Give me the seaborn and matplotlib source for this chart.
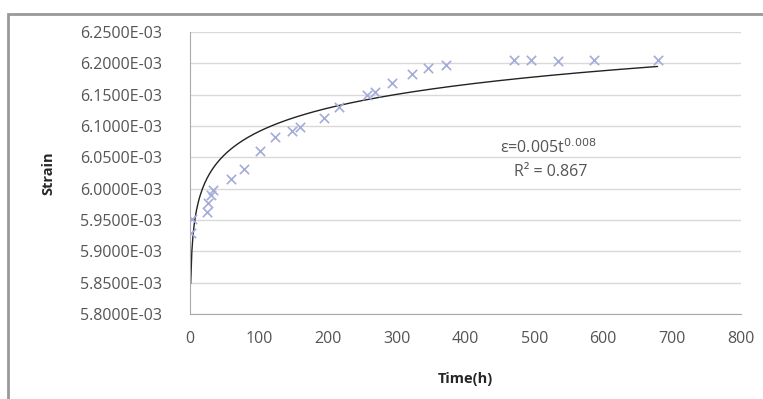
import matplotlib.pyplot as plt
import seaborn as sns
import numpy as np
from matplotlib.patches import Rectangle

# creep strain readings
time_h = [1, 3, 25, 26, 30, 33, 59, 79, 101, 124, 148, 160, 194, 217,
          257, 269, 294, 323, 346, 372, 470, 495, 535, 586, 679]
strain = [5.930e-3, 5.952e-3, 5.963e-3, 5.977e-3, 5.990e-3, 5.998e-3,
          6.015e-3, 6.031e-3, 6.060e-3, 6.083e-3, 6.092e-3, 6.098e-3,
          6.113e-3, 6.130e-3, 6.150e-3, 6.154e-3, 6.168e-3, 6.183e-3,
          6.192e-3, 6.197e-3, 6.205e-3, 6.205e-3, 6.204e-3, 6.205e-3,
          6.206e-3]
y_ticks = [5.80e-3, 5.85e-3, 5.90e-3, 5.95e-3, 6.00e-3, 6.05e-3,
           6.10e-3, 6.15e-3, 6.20e-3, 6.25e-3]
x_ticks = [0, 100, 200, 300, 400, 500, 600, 700, 800]

sns.set_style('white')
plt.rcParams['font.family'] = ['Open Sans', 'DejaVu Sans']

fig = plt.figure(figsize=(7.63, 3.99), dpi=100)
ax = fig.add_axes([0.249, 0.213, 0.722, 0.707])

# power-law trendline, fitted in log space like a spreadsheet
b, ln_a = np.polyfit(np.log(time_h), np.log(strain), 1)
t_fit = np.linspace(1.0, max(time_h), 400)
sns.lineplot(x=t_fit, y=np.exp(ln_a) * t_fit ** b, color='#222222', lw=1.0, ax=ax)

sns.scatterplot(x=time_h, y=strain, marker='x', s=45, color='#a3acd9',
                linewidth=1.2, ax=ax, zorder=3)

ax.set_xlim(0, 800)
ax.set_ylim(5.80e-3, 6.25e-3)
ax.set_xticks(x_ticks)
ax.set_yticks(y_ticks)
ax.set_yticklabels([f'{v:.4E}' for v in y_ticks])
ax.tick_params(axis='both', labelsize=11.5, colors='#555555', length=0, pad=20)
ax.tick_params(axis='x', pad=12)
ax.yaxis.grid(True, color='#d9d9d9', lw=1)
for side in ['top', 'right']:
    ax.spines[side].set_visible(False)
for side in ['left', 'bottom']:
    ax.spines[side].set_color('#aaaaaa')

ax.set_xlabel('Time(h)', fontsize=10.5, fontweight='bold', labelpad=18)
ax.set_ylabel('Strain', fontsize=10.5, fontweight='bold', labelpad=18)

ax.text(520, 6.066e-3, 'ε=0.005t$^{0.008}$', fontsize=11.5, color='#555555',
        ha='center', va='center')
ax.text(524, 6.026e-3, 'R² = 0.867', fontsize=11.5, color='#555555',
        ha='center', va='center')

fig.patches.append(Rectangle((0.011, -0.05), 1.2, 1.016, transform=fig.transFigure,
                             fill=False, edgecolor='#999999', lw=2))

fig.savefig('out.png', dpi=100)
